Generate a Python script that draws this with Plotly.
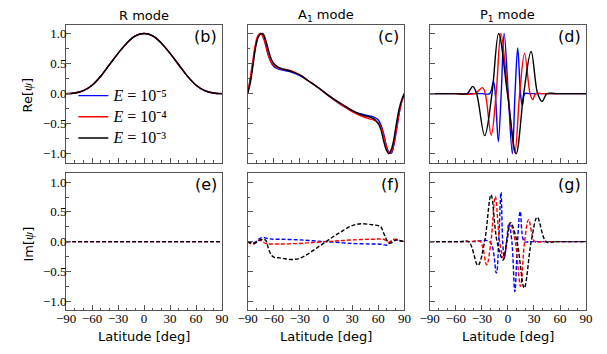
import plotly.graph_objects as go
from plotly.subplots import make_subplots

# ---- data ----
ENERGIES = ["<i>E</i> = 10⁻⁵", "<i>E</i> = 10⁻⁴", "<i>E</i> = 10⁻³"]
COLORS = ["blue", "red", "black"]

# R mode (all three E values overlap)
LAT_R = [-90, -80, -70, -60, -50, -40, -30, -20, -10, 0, 10, 20, 30, 40, 50, 60, 70, 80, 90]
RE_R = [0.0, 0.01, 0.05, 0.14, 0.29, 0.48, 0.67, 0.84, 0.96, 1.0, 0.96, 0.84, 0.67, 0.48, 0.29, 0.14, 0.05, 0.01, 0.0]
IM_R = [0.0] * len(LAT_R)

# A1 mode
LAT_A = [-90, -87, -84, -81, -78, -75, -72, -69, -66, -63, -60, -55, -50, -40, -30, -20, -10, 0,
         10, 20, 30, 40, 50, 55, 60, 63, 66, 69, 72, 75, 78, 81, 84, 87, 90]
RE_A_E5 = [0, 0.22, 0.50, 0.79, 0.95, 1.0, 0.96, 0.82, 0.64, 0.52, 0.45, 0.41, 0.39, 0.36, 0.30, 0.21, 0.11, 0,
           -0.11, -0.21, -0.29, -0.34, -0.37, -0.39, -0.44, -0.52, -0.66, -0.85, -0.97, -0.99, -0.85, -0.60, -0.33, -0.13, 0]
RE_A_E4 = [0, 0.25, 0.55, 0.82, 0.97, 1.0, 0.93, 0.78, 0.62, 0.52, 0.47, 0.43, 0.41, 0.38, 0.31, 0.21, 0.11, 0,
           -0.11, -0.21, -0.30, -0.37, -0.42, -0.44, -0.49, -0.55, -0.68, -0.86, -0.98, -0.97, -0.82, -0.58, -0.32, -0.13, 0]
RE_A_E3 = [0, 0.17, 0.45, 0.75, 0.93, 0.995, 0.99, 0.88, 0.72, 0.58, 0.50, 0.44, 0.41, 0.37, 0.31, 0.21, 0.11, 0,
           -0.10, -0.19, -0.28, -0.35, -0.39, -0.42, -0.50, -0.60, -0.78, -0.93, -1.0, -0.93, -0.75, -0.48, -0.25, -0.10, 0]
IM_A_E5 = [0, -0.01, -0.02, -0.01, 0.03, 0.06, 0.07, 0.06, 0.05, 0.045, 0.04, 0.04, 0.04, 0.035, 0.03, 0.02, 0.01, 0,
           -0.01, -0.02, -0.03, -0.035, -0.04, -0.04, -0.04, -0.045, -0.05, -0.06, -0.04, 0.01, 0.03, 0.03, 0.02, 0.01, 0]
IM_A_E4 = [0, -0.03, -0.04, -0.02, 0.02, 0.02, -0.01, -0.03, -0.04, -0.04, -0.04, -0.04, -0.04, -0.035, -0.03, -0.02, -0.01, 0,
           0.01, 0.02, 0.03, 0.035, 0.04, 0.04, 0.045, 0.045, 0.04, 0.02, -0.01, 0.01, 0.04, 0.04, 0.02, 0.01, 0]
IM_A_E3 = [0, -0.02, -0.03, -0.02, 0.01, 0.03, 0.04, 0.02, -0.12, -0.22, -0.26, -0.27, -0.28, -0.30, -0.28, -0.20, -0.10, 0,
           0.10, 0.19, 0.27, 0.30, 0.29, 0.28, 0.27, 0.25, 0.15, 0.05, -0.02, -0.02, 0.01, 0.03, 0.02, 0.01, 0]

# P1 mode, real part (extrema and zero crossings)
LAT_PR_E5 = [-90, -60, -30, -21, -16.6, -14.5, -11, -7.7, -4.3, 0.4, 5.1, 8.2, 11.3, 14.5, 16.6, 19.5, 25, 60, 90]
RE_P_E5 = [0, 0, 0, 0, 0.2, 0, -0.8, 0, 1.0, 0, -1.0, 0, 0.76, 0, -0.2, 0, 0, 0, 0]
LAT_PR_E4 = [-90, -60, -38, -29.3, -26, -19.2, -13.5, -8, 0, 8, 13.5, 19.2, 25.5, 28.6, 32, 40, 60, 90]
RE_P_E4 = [0, 0, 0, 0.1, 0, -0.69, 0, 1.0, 0, -0.98, 0, 0.67, 0, -0.1, 0, 0, 0, 0]
LAT_PR_E3 = [-90, -60, -47, -40.4, -36, -26.7, -18.3, -10.6, -0.5, 9.5, 18.2, 26.7, 34.2, 39.3, 45, 55, 90]
RE_P_E3 = [0, 0, 0, 0.12, 0, -0.7, 0, 1.0, 0, -1.0, 0, 0.7, 0, -0.13, 0, 0, 0]

# P1 mode, imaginary part
LAT_PI_E5 = [-90, -40, -21, -13.3, -10.6, -7.9, -6.0, -4.1, -1.5, 1.2, 4.6, 8, 11.1, 14.2, 18.8, 25, 60, 90]
IM_P_E5 = [0, 0, 0, -0.53, 0, 0.83, 0, -0.28, 0, 0.31, 0, -0.84, 0, 0.51, 0, 0, 0, 0]
LAT_PI_E4 = [-90, -45, -32, -24.5, -19.5, -14.5, -9.5, -5.2, -1.3, 2.6, 8.5, 14.5, 19.2, 23.8, 31, 40, 60, 90]
IM_P_E4 = [0, 0, 0, -0.39, 0, 0.76, 0, -0.28, 0, 0.32, 0, -0.75, 0, 0.37, 0, 0, 0, 0]
LAT_PI_E3 = [-90, -55, -45, -34.5, -26.8, -19.4, -12.5, -5.5, -1.3, 3.2, 10.5, 18.8, 26.8, 33.8, 44, 55, 90]
IM_P_E3 = [0, 0, 0, -0.40, 0, 0.79, 0, -0.31, 0, 0.32, 0, -0.78, 0, 0.41, 0, 0, 0]

TITLES = ["R mode", "A<sub>1</sub> mode", "P<sub>1</sub> mode"]
LABELS = ["(b)", "(c)", "(d)", "(e)", "(f)", "(g)"]

# the page body adds an 8px margin, so the figure is 8px smaller and
# every position below is given in window pixels minus that offset
OFF = 8
W, H = 607 - OFF, 354 - OFF
COL_PX = [(57.5, 218.0), (244.3, 405.7), (431.7, 592.7)]
ROW_PX = [(24.5, 162.7), (173.3, 310.0)]


def px_x(x):
    return (x - OFF) / W


def px_y(y):
    return (H - (y - OFF)) / H


panels = {
    (1, 1): ([LAT_R] * 3, [RE_R] * 3),
    (1, 2): ([LAT_A] * 3, [RE_A_E5, RE_A_E4, RE_A_E3]),
    (1, 3): ([LAT_PR_E5, LAT_PR_E4, LAT_PR_E3], [RE_P_E5, RE_P_E4, RE_P_E3]),
    (2, 1): ([LAT_R] * 3, [IM_R] * 3),
    (2, 2): ([LAT_A] * 3, [IM_A_E5, IM_A_E4, IM_A_E3]),
    (2, 3): ([LAT_PI_E5, LAT_PI_E4, LAT_PI_E3], [IM_P_E5, IM_P_E4, IM_P_E3]),
}

fig = make_subplots(rows=2, cols=3)

for (row, col), (lats, vals) in panels.items():
    for k in range(3):
        fig.add_trace(
            go.Scatter(
                x=lats[k],
                y=vals[k],
                mode="lines",
                name="<span style='font-size:16px'>" + ENERGIES[k] + "</span>",
                line=dict(color=COLORS[k], width=1.4, shape="spline", smoothing=1.0,
                          dash="solid" if row == 1 else "4px,2px"),
                showlegend=(row == 1 and col == 1),
                hoverinfo="skip",
            ),
            row=row,
            col=col,
        )

axis_line = "#555555"
tick_font = dict(family="Liberation Serif", size=13, color="black")
for row in (1, 2):
    for col in (1, 2, 3):
        idx = (row - 1) * 3 + col
        sx = "" if idx == 1 else str(idx)
        x0, x1 = COL_PX[col - 1]
        t0, t1 = ROW_PX[row - 1]
        fig.layout["xaxis" + sx].update(
            domain=[px_x(x0), px_x(x1)],
            anchor="y" + sx,
            range=[-90, 90],
            tick0=0, dtick=30,
            ticks="inside", ticklen=5, tickcolor=axis_line,
            minor=dict(tick0=0, dtick=10, ticks="inside", ticklen=2.5, tickcolor=axis_line),
            showline=True, linecolor=axis_line, linewidth=1, mirror=True,
            showgrid=False, zeroline=False,
            showticklabels=(row == 2),
            ticklabelstandoff=-4,
            tickfont=tick_font,
        )
        fig.layout["yaxis" + sx].update(
            domain=[px_y(t1), px_y(t0)],
            anchor="x" + sx,
            range=[-1.15, 1.15],
            tick0=0, dtick=0.5, tickformat=".1f",
            ticks="inside", ticklen=5, tickcolor=axis_line,
            minor=dict(tick0=0, dtick=0.25, ticks="inside", ticklen=2.5, tickcolor=axis_line),
            showline=True, linecolor=axis_line, linewidth=1, mirror=True,
            showgrid=False, zeroline=False,
            showticklabels=(col == 1),
            ticklabelstandoff=-4,
            tickfont=tick_font,
        )

annotations = []
sans = dict(family="DejaVu Sans", size=13, color="black")
for col in range(3):
    x0, x1 = COL_PX[col]
    xc = px_x((x0 + x1) / 2)
    annotations.append(dict(text=TITLES[col], x=xc, y=px_y(16), xref="paper", yref="paper",
                            xanchor="center", yanchor="middle", showarrow=False, font=sans))
    annotations.append(dict(text="Latitude [deg]", x=xc, y=px_y(336), xref="paper", yref="paper",
                            xanchor="center", yanchor="middle", showarrow=False, font=sans))
for i, lab in enumerate(LABELS):
    sx = "" if i == 0 else str(i + 1)
    annotations.append(dict(text=lab, x=1, y=1, xref="x" + sx + " domain", yref="y" + sx + " domain",
                            xanchor="right", yanchor="top", xshift=-3, yshift=0, showarrow=False,
                            font=dict(family="DejaVu Sans", size=16, color="black")))
psi = "<span style='font-family:Liberation Serif'><i>ψ</i></span>"
annotations.append(dict(text="Re[" + psi + "]", x=0, y=px_y(95), xref="paper", yref="paper",
                        textangle=-90, xanchor="left", yanchor="middle", showarrow=False, font=sans))
annotations.append(dict(text="Im[" + psi + "]", x=0, y=px_y(244), xref="paper", yref="paper",
                        textangle=-90, xanchor="left", yanchor="middle", showarrow=False, font=sans))

fig.update_layout(
    width=W,
    height=H,
    margin=dict(l=0, r=0, t=0, b=0),
    paper_bgcolor="white",
    plot_bgcolor="white",
    annotations=annotations,
    showlegend=True,
    legend=dict(
        x=px_x(65), y=px_y(80), xanchor="left", yanchor="top",
        bgcolor="rgba(0,0,0,0)",
        font=dict(family="Liberation Serif", size=14, color="black"),
        itemwidth=30,
        tracegroupgap=0,
    ),
)

fig.write_html("out.html")
